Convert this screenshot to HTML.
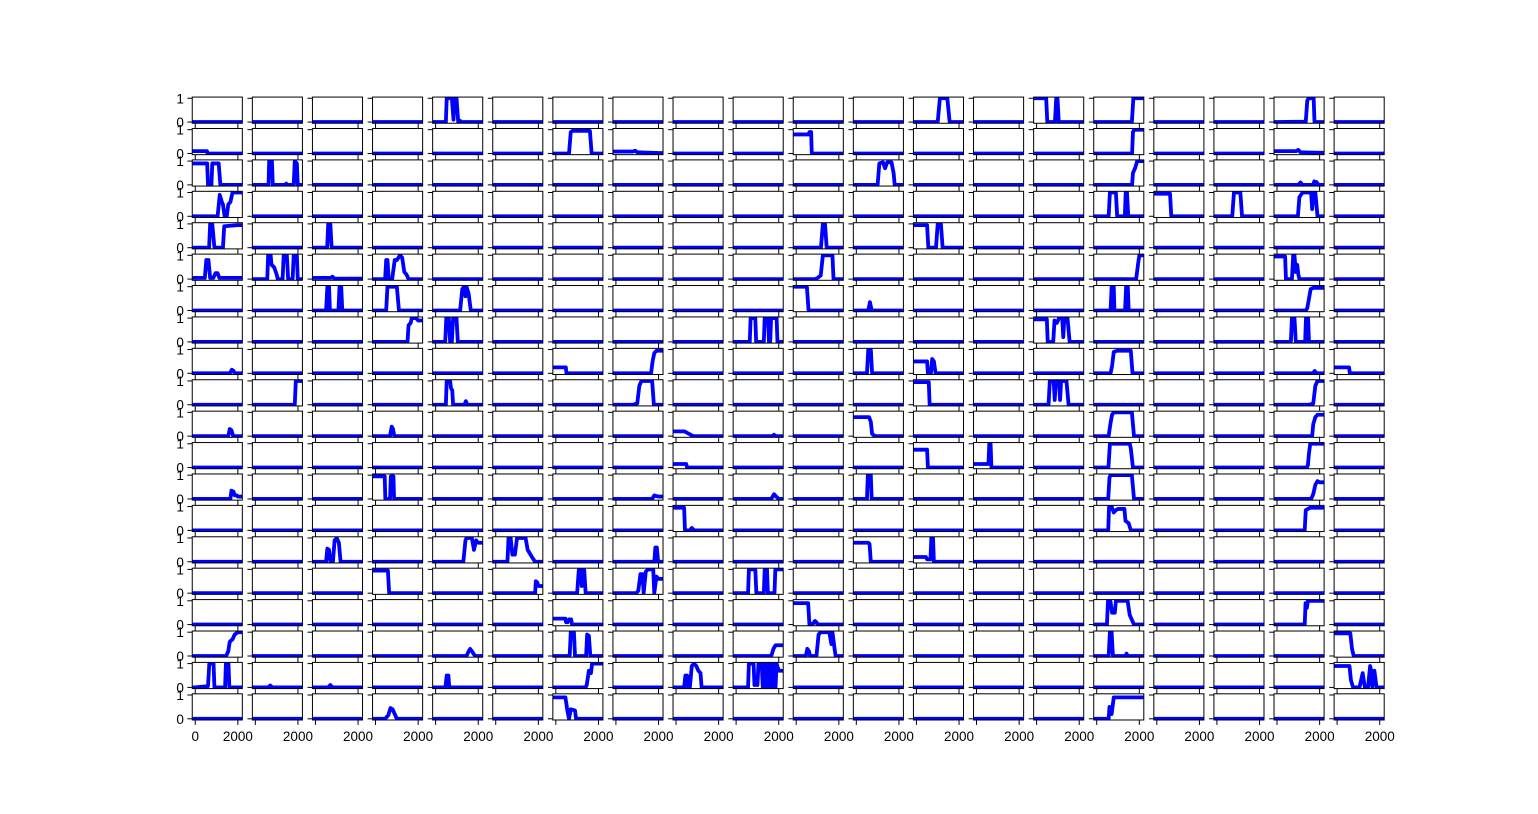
<!DOCTYPE html>
<html><head><meta charset="utf-8"><style>
html,body{margin:0;padding:0;background:#fff;}
svg text{font-family:"Liberation Sans","DejaVu Sans",sans-serif;font-size:13.5px;fill:#000;}
</style></head><body>
<svg id="fig" width="1538" height="809" viewBox="0 0 1538 809" xmlns="http://www.w3.org/2000/svg"></svg>
<script>
const nRows = 20;
const nCols = 20;
const xDomain = [-140, 2210];
const yDomain = [-0.05, 1.05];
const xTicks = [0, 2000];
const xTickLabels = ["0", "2000"];
const yTicks = [0, 1];
const yTickLabels = ["0", "1"];
// [row, col, points[x,y]] ; all other cells are flat at 0
const curves = [
[0,4,[[0,0],[480,0],[520,1],[760,1],[840,0.1],[880,1],[980,1],[1060,0],[1150,0.05],[1200,0],[2000,0]]],
[0,12,[[0,0],[1000,0],[1100,1],[1450,1],[1560,0],[2000,0]]],
[0,14,[[0,1],[450,1],[500,0],[860,0],[920,1],[980,1],[1040,0],[2000,0]]],
[0,15,[[0,0],[1650,0],[1720,1],[2000,1]]],
[0,18,[[0,0],[1350,0.02],[1420,0.9],[1480,1],[1720,1],[1760,0],[2000,0]]],
[1,0,[[0,0.1],[550,0.1],[580,0],[2000,0]]],
[1,6,[[0,0],[620,0],[700,0.9],[780,0.95],[1600,0.95],[1680,0],[2000,0]]],
[1,7,[[0,0.08],[800,0.08],[900,0.12],[1000,0.05],[2000,0.02]]],
[1,10,[[0,0.8],[580,0.8],[620,0.9],[700,0.9],[730,0],[2000,0]]],
[1,15,[[0,0],[1660,0],[1700,0.9],[1760,1],[2000,1]]],
[1,18,[[0,0.1],[900,0.1],[1000,0.15],[1100,0.05],[2000,0.03]]],
[2,0,[[0,0.9],[560,0.9],[600,0],[760,0],[800,0.9],[1100,0.9],[1180,0],[2000,0]]],
[2,1,[[0,0],[620,0],[650,1],[780,1],[820,0],[1400,0],[1450,0.05],[1500,0],[1800,0],[1850,1],[1950,0.9],[1990,0]]],
[2,11,[[0,0],[1000,0],[1080,0.9],[1250,0.95],[1350,0.7],[1450,0.95],[1650,0.95],[1750,0.5],[1800,0],[2000,0]]],
[2,15,[[0,0],[1660,0],[1700,0.5],[1800,0.7],[1900,1],[2000,1]]],
[2,18,[[0,0],[1000,0],[1100,0.1],[1200,0],[1700,0],[1750,0.15],[1800,0],[1850,0.12],[1950,0],[2000,0]]],
[3,0,[[0,0],[1050,0],[1150,0.9],[1250,0.6],[1300,0.5],[1380,0],[1480,0],[1550,0.5],[1650,0.6],[1750,1],[2000,1]]],
[3,15,[[0,0],[560,0],[620,1],[900,1],[960,0],[1320,0],[1360,1],[1420,1],[1480,0],[2000,0]]],
[3,16,[[0,0.95],[620,0.95],[680,0],[2000,0]]],
[3,17,[[0,0],[720,0],[800,1],[1100,1],[1180,0],[2000,0]]],
[3,18,[[0,0],[980,0],[1050,0.8],[1200,1],[1400,1],[1600,1],[1650,0.3],[1700,1],[1800,1],[1900,0],[2000,0]]],
[4,0,[[0,0],[650,0],[700,1],[800,1],[900,0],[1300,0],[1360,0.9],[2000,0.95]]],
[4,2,[[0,0],[550,0],[600,1],[700,1],[760,0],[2000,0]]],
[4,10,[[0,0],[1160,0],[1250,1],[1350,1],[1430,0],[2000,0]]],
[4,12,[[0,0.95],[500,0.95],[560,0],[920,0],[1000,1],[1150,1],[1230,0],[2000,0]]],
[5,0,[[0,0.05],[450,0.05],[520,0.8],[620,0.8],[700,0.05],[850,0.05],[950,0.25],[1050,0.25],[1130,0.05],[2000,0.05]]],
[5,1,[[0,0],[560,0],[600,1],[720,1],[760,0.6],[880,0.5],[1000,0.2],[1050,0],[1280,0],[1330,1],[1480,1],[1540,0],[1750,0],[1800,1],[1950,1],[1990,0],[2000,0]]],
[5,2,[[0,0.05],[700,0.05],[800,0.1],[900,0.02],[2000,0.02]]],
[5,3,[[0,0],[450,0],[500,0.8],[560,0.8],[620,0],[780,0],[900,0.8],[1000,0.8],[1150,1],[1250,0.9],[1350,0.3],[1450,0.2],[1550,0],[2000,0]]],
[5,10,[[0,0],[900,0],[1000,0.05],[1150,0.15],[1250,1],[1700,1],[1750,0],[2000,0]]],
[5,15,[[0,0],[1850,0],[1950,0.7],[2000,1]]],
[5,18,[[0,0.95],[380,0.95],[420,0],[700,0],[760,1],[820,1],[880,0.3],[950,0.6],[1000,0.2],[1050,0],[2000,0]]],
[6,2,[[0,0],[500,0],[560,1],[640,1],[680,0],[1080,0],[1130,1],[1210,1],[1260,0],[2000,0]]],
[6,3,[[0,0],[500,0],[560,1],[1000,1],[1100,0],[2000,0]]],
[6,4,[[0,0],[1150,0],[1250,0.9],[1330,1],[1400,0.6],[1450,1],[1550,0.7],[1650,0],[2000,0]]],
[6,10,[[0,1],[500,1],[580,0],[2000,0]]],
[6,11,[[0,0],[560,0],[640,0.35],[720,0],[2000,0]]],
[6,15,[[0,0],[650,0],[700,1],[800,1],[830,0],[1330,0],[1380,1],[1460,1],[1500,0],[2000,0]]],
[6,18,[[0,0],[1350,0],[1420,0.1],[1500,0.5],[1580,0.9],[1700,0.95],[2000,0.95]]],
[7,3,[[0,0],[1500,0],[1550,0.7],[1650,0.8],[1700,1],[1900,1],[2000,0.9]]],
[7,4,[[0,0],[450,0],[500,1],[620,1],[680,0],[760,0],[820,1],[980,1],[1040,0],[2000,0]]],
[7,9,[[0,0],[640,0],[680,1],[900,1],[940,0],[1300,0],[1340,1],[1500,1],[1540,0],[1600,0],[1640,1],[1900,1],[1940,0],[2000,0]]],
[7,14,[[0,0.95],[480,0.95],[520,0],[780,0],[840,0.9],[950,0.8],[1050,1],[1200,1],[1250,0.2],[1300,1],[1450,1],[1550,0],[2000,0]]],
[7,18,[[0,0],[650,0],[700,1],[820,1],[880,0],[1320,0],[1360,1],[1460,1],[1500,0],[2000,0]]],
[8,0,[[0,0],[1620,0],[1720,0.15],[1800,0.1],[1850,0],[2000,0]]],
[8,6,[[0,0.25],[470,0.25],[500,0],[2000,0]]],
[8,7,[[0,0],[1650,0],[1720,0.5],[1800,0.85],[1900,0.95],[2000,0.95]]],
[8,11,[[0,0],[500,0],[560,1],[680,1],[740,0],[2000,0]]],
[8,12,[[0,0.5],[500,0.5],[540,0],[680,0],[740,0.6],[820,0.5],[900,0],[2000,0]]],
[8,15,[[0,0],[650,0],[720,0.3],[800,0.9],[950,0.95],[1600,0.95],[1680,0],[2000,0]]],
[8,18,[[0,0],[1700,0],[1770,0.1],[1850,0],[2000,0]]],
[8,19,[[0,0.25],[560,0.25],[600,0],[2000,0]]],
[9,1,[[0,0],[1850,0],[1900,1],[2000,1]]],
[9,4,[[0,0],[480,0],[520,1],[680,1],[720,0.7],[780,0.6],[820,0],[1350,0],[1420,0.15],[1480,0],[2000,0]]],
[9,7,[[0,0],[800,0],[1000,0.05],[1100,0.8],[1200,1],[1700,1],[1780,0],[2000,0]]],
[9,12,[[0,0.95],[580,0.95],[620,0],[2000,0]]],
[9,14,[[0,0],[560,0],[620,1],[800,1],[850,0.2],[900,1],[1050,1],[1100,0.2],[1150,1],[1400,1],[1500,0],[2000,0]]],
[9,18,[[0,0],[1500,0],[1700,0.05],[1800,0.8],[1900,1],[2000,1]]],
[10,0,[[0,0],[1550,0],[1620,0.3],[1700,0.25],[1780,0],[2000,0]]],
[10,3,[[0,0],[680,0],[760,0.4],[820,0.3],[880,0],[2000,0]]],
[10,8,[[0,0.2],[400,0.2],[600,0.1],[700,0.05],[800,0],[2000,0]]],
[10,9,[[0,0],[1700,0],[1780,0.06],[1850,0],[2000,0]]],
[10,11,[[0,0.8],[600,0.8],[680,0.6],[740,0.1],[800,0.05],[900,0],[2000,0]]],
[10,15,[[0,0],[560,0],[640,0.5],[720,0.9],[800,1],[1650,1],[1750,0],[2000,0]]],
[10,18,[[0,0],[1650,0],[1700,0.5],[1800,0.8],[1900,0.9],[2000,0.9]]],
[11,8,[[0,0.15],[480,0.15],[520,0],[2000,0]]],
[11,12,[[0,0.75],[500,0.75],[540,0],[2000,0]]],
[11,13,[[0,0.15],[560,0.15],[600,1],[660,1],[700,0],[2000,0]]],
[11,15,[[0,0],[550,0],[620,1],[1550,1],[1600,0.8],[1700,0],[2000,0]]],
[11,18,[[0,0],[1400,0],[1450,0.1],[1500,0.6],[1560,1],[2000,1]]],
[12,0,[[0,0],[1650,0],[1700,0.35],[1800,0.3],[1850,0.15],[1950,0.15],[2000,0.1]]],
[12,3,[[0,0.95],[430,0.95],[460,0],[680,0],[720,0.95],[840,0.95],[870,0],[2000,0]]],
[12,7,[[0,0],[1700,0],[1800,0.15],[1900,0.12],[2000,0.1]]],
[12,9,[[0,0],[1650,0],[1780,0.2],[1880,0.1],[2000,0]]],
[12,11,[[0,0],[500,0],[540,1],[680,1],[720,0],[2000,0]]],
[12,15,[[0,0],[540,0],[600,0.9],[650,1],[1650,1],[1750,0],[2000,0]]],
[12,18,[[0,0],[1600,0],[1700,0.2],[1800,0.6],[1900,0.75],[2000,0.7]]],
[13,8,[[0,0.95],[380,0.95],[420,0],[650,0],[740,0.1],[850,0],[2000,0]]],
[13,15,[[0,0],[540,0],[580,1],[700,1],[800,0.75],[900,0.85],[1000,0.9],[1300,0.9],[1350,0.4],[1500,0.3],[1600,0],[2000,0]]],
[13,18,[[0,0],[1300,0],[1350,0.85],[1450,0.9],[1550,0.95],[2000,0.95]]],
[14,2,[[0,0],[500,0],[560,0.55],[640,0.5],[700,0],[820,0],[900,0.9],[1000,1],[1100,0.8],[1180,0],[2000,0]]],
[14,4,[[0,0],[1300,0],[1400,0.9],[1450,1],[1700,1],[1800,0.5],[1900,0.9],[2000,0.8]]],
[14,5,[[0,0],[550,0],[600,1],[700,1],[780,0.3],[900,0.3],[1000,1],[1400,1],[1500,0.5],[1700,0.2],[1850,0],[2000,0]]],
[14,7,[[0,0],[1800,0],[1850,0.6],[1920,0.6],[1980,0],[2000,0]]],
[14,11,[[0,0.8],[560,0.8],[620,0.75],[680,0],[2000,0]]],
[14,12,[[0,0.2],[450,0.2],[500,0.1],[660,0.1],[700,1],[780,1],[820,0],[2000,0]]],
[15,3,[[0,0.95],[580,0.95],[640,0],[2000,0]]],
[15,5,[[0,0],[1850,0],[1880,0.5],[1950,0.45],[2000,0.3]]],
[15,6,[[0,0],[1000,0],[1080,1],[1150,1],[1220,0.3],[1280,1],[1330,1],[1400,0],[2000,0]]],
[15,7,[[0,0],[950,0],[1050,0.1],[1150,0.8],[1250,0.8],[1300,0],[1400,0.9],[1500,1],[1750,1],[1800,0],[1900,0.7],[2000,0.6]]],
[15,9,[[0,0],[560,0],[600,1],[900,1],[950,0],[1300,0],[1340,1],[1450,1],[1490,0],[1800,0],[1840,1],[2000,1]]],
[16,6,[[0,0.25],[450,0.25],[480,0.1],[560,0.1],[620,0.22],[720,0.22],[760,0],[2000,0]]],
[16,10,[[0,0.9],[560,0.9],[620,0],[800,0.05],[880,0.15],[950,0.1],[1000,0],[2000,0]]],
[16,15,[[0,0],[480,0],[530,1],[640,1],[720,0.5],[850,0.5],[900,1],[1450,1],[1550,0.4],[1700,0.1],[1750,0],[2000,0]]],
[16,18,[[0,0],[1300,0],[1340,0.9],[1400,0.7],[1450,1],[2000,1]]],
[17,0,[[0,0],[1450,0],[1550,0.2],[1620,0.6],[1750,0.7],[1850,0.9],[2000,1]]],
[17,4,[[0,0],[1450,0],[1550,0.2],[1620,0.3],[1700,0.2],[1850,0],[2000,0]]],
[17,6,[[0,0],[650,0],[700,1],[850,1],[900,0],[1420,0],[1470,0.9],[1550,0.85],[1620,0],[2000,0]]],
[17,9,[[0,0],[1650,0],[1750,0.3],[1850,0.45],[2000,0.45]]],
[17,10,[[0,0],[450,0],[520,0.3],[600,0.2],[650,0],[950,0],[1050,0.9],[1150,1],[1550,1],[1650,0.5],[1700,1],[1800,0.3],[1850,0],[2000,0]]],
[17,15,[[0,0],[560,0],[620,1],[700,1],[760,0],[1350,0],[1400,0.1],[1450,0],[2000,0]]],
[17,19,[[0,0.95],[620,0.95],[700,0.3],[780,0],[2000,0]]],
[18,0,[[0,0],[600,0.05],[660,1],[860,1],[900,0],[1400,0],[1440,1],[1560,1],[1600,0],[2000,0]]],
[18,1,[[0,0],[600,0],[700,0.08],[800,0],[2000,0]]],
[18,2,[[0,0],[600,0],[700,0.1],[800,0],[2000,0]]],
[18,4,[[0,0],[460,0],[520,0.5],[600,0.5],[640,0],[2000,0]]],
[18,6,[[0,0],[1400,0],[1450,0.1],[1550,0.7],[1650,0.6],[1700,1],[2000,1]]],
[18,8,[[0,0],[380,0],[440,0.5],[520,0.5],[560,0],[650,0],[740,0.9],[850,1],[950,0.9],[1050,0.7],[1150,0.6],[1200,0],[2000,0]]],
[18,9,[[0,0],[560,0],[600,1],[820,1],[860,0.1],[1000,0.1],[1050,1],[1200,1],[1250,0],[1300,1],[1400,0],[1450,1],[1550,0],[1600,1],[1700,0],[1750,1],[1850,0],[1900,1],[2000,0.7]]],
[18,19,[[0,0.9],[580,0.9],[650,0.3],[750,0],[1050,0],[1200,0.6],[1300,0],[1450,0],[1550,0.9],[1600,0.7],[1650,0],[1750,0.7],[1850,0],[2000,0]]],
[19,3,[[0,0],[450,0],[600,0.15],[700,0.45],[800,0.4],[900,0.2],[1000,0],[2000,0]]],
[19,6,[[0,0.9],[450,0.9],[550,0.3],[620,0],[700,0.4],[900,0.35],[950,0],[2000,0]]],
[19,15,[[0,0],[560,0],[600,0.5],[700,0.2],[800,0.9],[900,0.9],[2000,0.9]]]
];

const NS = "http://www.w3.org/2000/svg";
const svg = document.getElementById('fig');
const figL = 192.25, figR = 1384.2, figT = 97.08, figB = 719.99;
const cellW = (figR - figL) / (nCols + (nCols - 1) * 0.2);
const cellH = (figB - figT) / (nRows + (nRows - 1) * 0.2);
function mk(tag, attrs) { const e = document.createElementNS(NS, tag); for (const k in attrs) e.setAttribute(k, attrs[k]); return e; }
function axLeft(c) { return figL + c * cellW * 1.2; }
function axTop(r) { return figT + r * cellH * 1.2; }
function xScale(c, v) { return axLeft(c) + (v - xDomain[0]) / (xDomain[1] - xDomain[0]) * cellW; }
function yScale(r, v) { return axTop(r) + cellH - (v - yDomain[0]) / (yDomain[1] - yDomain[0]) * cellH; }

const lookup = {};
curves.forEach(cv => { lookup[cv[0] + ',' + cv[1]] = cv[2]; });

const defs = mk('defs', {});
svg.appendChild(defs);

for (let r = 0; r < nRows; r++) {
  for (let c = 0; c < nCols; c++) {
    const g = mk('g', {});
    
    
    const L = axLeft(c), T = axTop(r);
    const clip = mk('clipPath', { id: 'cp' + r + '_' + c });
    clip.appendChild(mk('rect', { x: L, y: T, width: cellW, height: cellH }));
    defs.appendChild(clip);
    let pts = lookup[r + ',' + c] || [[0, 0], [2000, 0]];
    pts = [[xDomain[0], pts[0][1]]].concat(pts, [[xDomain[1], pts[pts.length - 1][1]]]);
    const d = pts.map((p, i) => (i ? 'L' : 'M') + xScale(c, p[0]).toFixed(2) + ',' + yScale(r, p[1]).toFixed(2)).join('');
    const path = mk('path', { d: d, fill: 'none', stroke: '#0000ff', 'stroke-width': 3.8, 'stroke-linejoin': 'round', 'clip-path': 'url(#cp' + r + '_' + c + ')' });
    
    
    g.appendChild(path);
    const frame = mk('rect', { x: L, y: T, width: cellW, height: cellH, fill: 'none', stroke: '#000', 'stroke-width': 1 });
    
    
    g.appendChild(frame);
    yTicks.forEach((v, i) => {
      const y = yScale(r, v);
      g.appendChild(mk('line', { x1: L - 4.9, x2: L, y1: y, y2: y, stroke: '#000', 'stroke-width': 1 }));
      if (c === 0) {
        const t = mk('text', { x: L - 8.4, y: y + 5, 'text-anchor': 'end' });
        
        
        t.textContent = yTickLabels[i];
        g.appendChild(t);
      }
    });
    xTicks.forEach((v, i) => {
      const x = xScale(c, v);
      const B = T + cellH;
      g.appendChild(mk('line', { x1: x, x2: x, y1: B, y2: B + 4.9, stroke: '#000', 'stroke-width': 1 }));
      if (r === nRows - 1 && (i === 1 || c === 0)) {
        const t = mk('text', { x: x, y: B + 21, 'text-anchor': 'middle' });
        
        
        t.textContent = xTickLabels[i];
        g.appendChild(t);
      }
    });
    svg.appendChild(g);
  }
}
</script>
</body></html>
